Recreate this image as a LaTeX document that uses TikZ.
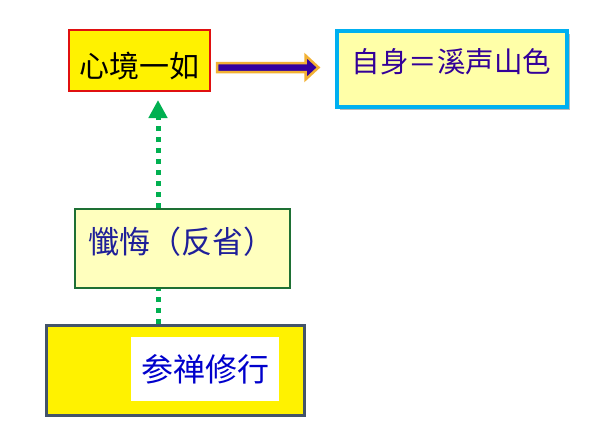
\documentclass[tikz,border=0pt]{standalone}
\usepackage{fontspec}
\setmainfont{Noto Sans CJK SC}
\usetikzlibrary{arrows.meta,shadows,calc}
\definecolor{heartred}{HTML}{E01010}
\definecolor{selfcyan}{HTML}{00B0F0}
\definecolor{paleyellow}{HTML}{FFFFA8}
\definecolor{creamyellow}{HTML}{FFFFBE}
\definecolor{repentgreen}{HTML}{1E7034}
\definecolor{zenslate}{HTML}{44546A}
\definecolor{dotgreen}{HTML}{00B050}
\definecolor{arrowindigo}{HTML}{3300A0}
\definecolor{arrowgold}{HTML}{F2B134}
\definecolor{selftext}{HTML}{330099}
\definecolor{repenttext}{HTML}{1F1F99}
\definecolor{zentext}{HTML}{0000CC}
\begin{document}
\begin{tikzpicture}[x=1pt,y=-1pt,
  box/.style={rectangle,inner sep=0pt},
  bigtext/.style={font=\fontsize{#1}{#1}\selectfont},
  dotline/.style={draw=dotgreen,line width=5pt,dash pattern=on 5pt off 6pt}]
\useasboundingbox (0,0) rectangle (602,447);
\node[box,bigtext=30,draw=heartred,line width=2pt,fill=yellow,minimum width=141pt,minimum height=61pt,text height=47pt,text depth=14pt] (heart) at (139.5,60.5) {心境一如};
\node[box,bigtext=28.5,draw=selfcyan,line width=4pt,fill=paleyellow,text=selftext,minimum width=230pt,minimum height=76pt,text height=42pt,text depth=34pt,
  drop shadow={shadow xshift=3pt,shadow yshift=-3pt,opacity=0.45,fill=black!60}] (self) at (451.5,68.5) {自身＝溪声山色};
\node[box,bigtext=31,draw=repentgreen,line width=2pt,fill=creamyellow,text=repenttext,minimum height=79pt,text width=189pt,inner xsep=13pt,align=left,text height=44pt,text depth=35pt] (repent) at (182.5,248.5) {懺悔（反省）};
\node[box,draw=zenslate,line width=3pt,fill=yellow,minimum width=258pt,minimum height=90pt] (zen) at (175,370) {};
\node[box,bigtext=32,fill=white,text=zentext,minimum width=148pt,minimum height=64pt] (practice) at (205,369) {参禅修行};
\coordinate (axis) at (158,0);
\coordinate (arrS) at ($(heart.east)+(6,7)$);
\coordinate (arrE) at ($(arrS -| self.west)+(-16,0)$);
\filldraw[fill=arrowindigo,draw=arrowgold,line width=2.5pt,line join=miter] ($(arrS)+(0,-4.5)$) -- ($(arrE)+(-13,-4.5)$) -- ($(arrE)+(-13,-12)$) -- (arrE) -- ($(arrE)+(-13,12)$) -- ($(arrE)+(-13,4.5)$) -- ($(arrS)+(0,4.5)$) -- cycle;
\draw[dotline,shorten >=8pt,-{Triangle[length=18pt,width=18pt]}] (repent.north -| axis) -- (heart.south -| axis);
\draw[dotline] (zen.north -| axis) -- (repent.south -| axis);
\end{tikzpicture}
\end{document}
